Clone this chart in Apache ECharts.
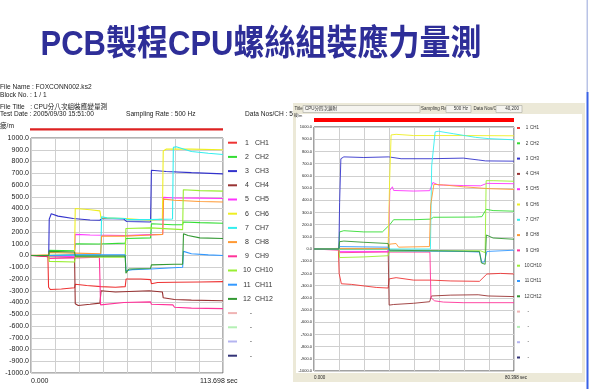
<!DOCTYPE html>
<html>
<head>
<meta charset="utf-8">
<script src="https://cdn.jsdelivr.net/npm/echarts@6/dist/echarts.min.js"></script>
<style>
html, body { margin: 0; padding: 0; background: #fff; }
#chart { width: 589px; height: 389px; }
</style>
</head>
<body>
<div id="chart"></div>
<script>
// 通道名稱與顏色 (13~16 為未使用通道)
const chNames = ['CH1', 'CH2', 'CH3', 'CH4', 'CH5', 'CH6', 'CH7', 'CH8', 'CH9', 'CH10', 'CH11', 'CH12'];
const chColors = ['#ee3333', '#33dd33', '#3333cc', '#993333', '#ff33ff', '#eeee22', '#33eeee', '#ff9933',
  '#ff3399', '#99ee33', '#3399ff', '#339933', '#f0b4b4', '#b4f0b4', '#b4b4f0', '#333377'];

// 左圖: CPU分八次組裝 (時間 sec, 應變)
const leftXMax = 113.698;
const L_CH1 = [[0, 2], [10, -5], [10.4, -270], [11.5, -290], [18, -285], [25.8, -275], [26.2, -245], [33, -255], [41.5, -265], [50, -270], [55.8, -265], [56.3, -200], [65, -200], [70.8, -205], [71.3, -240], [75, -230], [85, -228], [100, -225], [113.7, -222]];
const L_CH2 = [[0, 0], [10.5, 0], [10.8, 45], [25.8, 40], [26.2, 100], [40, 98], [55.8, 105], [56.2, 145], [70.8, 150], [71.3, 270], [84, 262], [89.8, 262], [90.2, 285], [100, 280], [113.7, 275]];
const L_CH3 = [[0, 0], [10.5, 0], [10.8, 310], [12, 355], [16, 335], [25, 315], [35, 302], [40.8, 300], [42, 315], [55, 310], [56.5, 290], [70.8, 285], [71.3, 725], [80, 715], [95, 705], [113.7, 695]];
const L_CH4 = [[0, 0], [10.5, -10], [25.8, -15], [26.2, -410], [28, -425], [35, -415], [40.8, -405], [41.5, -300], [50, -310], [70, -300], [77.8, -310], [78.3, -360], [85, -375], [95, -380], [113.7, -385]];
const L_CH5 = [[0, 0], [10.5, 0], [10.8, -15], [25.8, -10], [26.2, 180], [35, 175], [55.8, 170], [56.2, 175], [70.8, 178], [78, 180], [78.4, 495], [85, 490], [100, 488], [113.7, 485]];
const L_CH6 = [[0, 0], [25.8, 5], [26.2, 400], [27, 410], [35, 390], [40.8, 380], [41.5, 320], [55.8, 315], [56.5, 305], [70.8, 300], [77.8, 310], [78.3, 890], [80, 905], [95, 905], [113.7, 900]];
const L_CH7 = [[0, 0], [41.3, 5], [41.8, 330], [45, 320], [55.8, 315], [57, 305], [70, 305], [83.8, 310], [84.3, 920], [86, 925], [95, 885], [105, 870], [113.7, 860]];
const L_CH8 = [[0, 0], [10.5, 5], [10.8, 25], [25.8, 20], [26.2, 10], [41.3, 15], [41.8, 165], [55.8, 165], [56.2, 170], [70.8, 175], [78, 180], [78.5, 480], [85, 470], [100, 460], [113.7, 455]];
const L_CH9 = [[0, 0], [10.5, -5], [10.8, -25], [25.8, -20], [26.2, -10], [40.5, -15], [41.2, -420], [42, -410], [55, -400], [70.8, -395], [71.3, -415], [84, -420], [85, -440], [95, -448], [113.7, -452]];
const L_CH10 = [[0, 0], [10.5, 0], [10.8, -50], [25.8, -55], [26.2, -10], [41, -15], [55.8, -15], [56.2, 230], [70.8, 235], [71.3, 225], [89.8, 220], [90.2, 560], [100, 552], [113.7, 548]];
const L_CH11 = [[0, 0], [10.5, 0], [10.8, 10], [25.8, 5], [26.2, 0], [55.8, 5], [56.2, -130], [60, -120], [70.8, -115], [71.3, -105], [89.8, -100], [90.3, 35], [95, 15], [105, 5], [113.7, 0]];
const L_CH12 = [[0, 0], [10.5, 0], [10.8, 35], [25.8, 30], [26.2, -5], [55.8, -5], [56.2, -150], [58, -115], [70.8, -110], [71.3, -80], [85, -75], [89.8, -75], [90.3, 185], [93, 170], [100, 150], [113.7, 145]];

// 右圖: CPU分四次鎖附
const rightXMax = 80.398;
const R_CH1 = [[0, 0], [9.8, 0], [10.1, -200], [11, -285], [15, -290], [25, -315], [29.8, -320], [30.2, -245], [33, -235], [40, -255], [47, -255], [55, -262], [66.5, -265], [69.5, -205], [75, -200], [80.4, -205]];
const R_CH2 = [[0, 0], [10, 0], [10.3, 140], [12, 150], [20, 140], [27.5, 140], [30.5, 200], [32, 240], [40, 240], [47, 245], [48, 260], [65, 262], [67.5, 265], [69.2, 325], [72, 315], [80.4, 310]];
const R_CH3 = [[0, 0], [10, 0], [10.3, 380], [10.8, 740], [12, 755], [20, 750], [30, 755], [35, 740], [47, 740], [60, 745], [66, 730], [69, 722], [80.4, 720]];
const R_CH4 = [[0, 0], [29.8, 0], [30.2, -460], [32, -455], [40, -445], [46.5, -432], [47.2, -385], [55, -378], [66, -375], [70, -385], [80.4, -390]];
const R_CH5 = [[0, 0], [10, 0], [10.3, -20], [29.8, -20], [30.5, 480], [31.5, 510], [32, 480], [40, 475], [46.5, 478], [47.8, 545], [50, 525], [60, 520], [67, 518], [69.5, 538], [80.4, 535]];
const R_CH6 = [[0, 0], [29.8, 0], [30.4, 560], [31, 935], [33, 940], [40, 930], [60, 930], [80.4, 928]];
const R_CH7 = [[0, 0], [46.8, 0], [47.3, 680], [48.7, 960], [50, 965], [56, 945], [65, 915], [70, 905], [80.4, 895]];
const R_CH8 = [[0, 0], [10, 5], [29.8, 5], [30.5, 40], [33, 45], [34, 15], [46.4, 20], [46.9, 360], [48.2, 530], [52, 525], [60, 510], [70, 495], [80.4, 488]];
const R_CH9 = [[0, 0], [10, -10], [10.3, -30], [29.8, -25], [30.2, -30], [46.6, -25], [47, -400], [48.5, -425], [52, -435], [60, -440], [80.4, -440]];
const R_CH10 = [[0, 0], [10, 0], [10.3, -70], [20, -65], [29.8, -55], [30.3, -20], [50, -15], [67, -15], [68.8, -30], [69.2, 560], [72, 560], [80.4, 555]];
const R_CH11 = [[0, 0], [10, 0], [10.3, 20], [29.8, 15], [30.3, -15], [60, -20], [66.5, -25], [67.5, -110], [68.5, -105], [69.5, -20], [80.4, -10]];
const R_CH12 = [[0, 0], [10, 0], [10.3, 60], [12, 65], [20, 55], [29.8, 45], [30.3, -10], [50, -15], [66.5, -20], [67.3, -115], [68.8, -125], [69.3, 115], [72, 90], [80.4, 80]];

const leftData = [L_CH1, L_CH2, L_CH3, L_CH4, L_CH5, L_CH6, L_CH7, L_CH8, L_CH9, L_CH10, L_CH11, L_CH12];
const rightData = [R_CH1, R_CH2, R_CH3, R_CH4, R_CH5, R_CH6, R_CH7, R_CH8, R_CH9, R_CH10, R_CH11, R_CH12];

const FONT = '"Liberation Sans", "Noto Sans CJK TC", sans-serif';

// 建立 16 條線 (後 4 條只用於圖例)
function buildSeries(prefix, dataList, idx, width) {
  const out = [];
  for (let i = 0; i < 16; i++) {
    out.push({
      name: prefix + (i + 1),
      type: 'line',
      xAxisIndex: idx,
      yAxisIndex: idx,
      data: i < 12 ? dataList[i] : [],
      showSymbol: false,
      symbol: 'none',
      lineStyle: { width: width, color: chColors[i] },
      itemStyle: { color: chColors[i] }
    });
  }
  return out;
}

function legendFormatter(name) {
  const n = parseInt(name.slice(1));
  return n <= 12 ? '{n|' + n + '}{c|' + chNames[n - 1] + '}' : '{n|-}';
}

function legendNames(prefix) {
  const arr = [];
  for (let i = 1; i <= 16; i++) arr.push(prefix + i);
  return arr;
}

// x 軸: 只顯示起點標籤, 終點 "xxx sec" 另外以文字放置
function xAxisOpt(idx, max, fontSize, margin) {
  return {
    gridIndex: idx, type: 'value', min: 0, max: max, interval: max / 8,
    axisLine: { show: false }, axisTick: { show: false },
    splitLine: { lineStyle: { color: '#cfcfcf', width: 1 } },
    axisLabel: {
      fontSize: fontSize, color: '#222', fontFamily: FONT, margin: margin,
      alignMinLabel: 'left',
      formatter: function (v) { return v === 0 ? '0.000' : ''; }
    }
  };
}

function yAxisOpt(idx, fontSize, margin) {
  return {
    gridIndex: idx, type: 'value', min: -1000, max: 1000, interval: 100,
    axisLine: { show: false }, axisTick: { show: false },
    splitLine: { lineStyle: { color: '#cfcfcf', width: 1 } },
    axisLabel: {
      fontSize: fontSize, color: '#222', fontFamily: FONT, margin: margin,
      showMinLabel: true, showMaxLabel: true,
      formatter: function (v) { return v.toFixed(1); }
    }
  };
}

const chart = echarts.init(document.getElementById('chart'));
const option = {
  animation: false,
  backgroundColor: '#fff',
  grid: [
    { left: 31, top: 138, width: 192, height: 235, show: true, borderColor: '#666', borderWidth: 1, backgroundColor: '#fff' },
    { left: 314, top: 127, width: 200, height: 244, show: true, borderColor: '#444', borderWidth: 1, backgroundColor: '#fff' }
  ],
  xAxis: [xAxisOpt(0, leftXMax, 7, 4.5), xAxisOpt(1, rightXMax, 4.5, 4.5)],
  yAxis: [yAxisOpt(0, 7, 2), yAxisOpt(1, 4, 2)],
  legend: [
    {
      data: legendNames('L'), orient: 'vertical', left: 228, top: 137.7, padding: 0,
      itemWidth: 9, itemHeight: 2, itemGap: 4.2, icon: 'rect', selectedMode: false,
      formatter: legendFormatter,
      textStyle: {
        fontSize: 7, lineHeight: 10, color: '#333', fontFamily: FONT,
        rich: {
          n: { width: 10, align: 'right', fontSize: 7, lineHeight: 10, fontFamily: FONT, color: '#333' },
          c: { padding: [0, 0, 0, 3], fontSize: 7, lineHeight: 10, fontFamily: FONT, color: '#333' }
        }
      }
    },
    {
      data: legendNames('R'), orient: 'vertical', left: 517, top: 124, padding: 0,
      itemWidth: 3, itemHeight: 2, itemGap: 7.3, icon: 'rect', selectedMode: false,
      formatter: legendFormatter,
      textStyle: {
        fontSize: 4.5, lineHeight: 8, color: '#333', fontFamily: FONT,
        rich: {
          n: { width: 4, align: 'right', fontSize: 4.5, lineHeight: 8, fontFamily: FONT, color: '#333' },
          c: { padding: [0, 0, 0, 1], fontSize: 4.5, lineHeight: 8, fontFamily: FONT, color: '#333' }
        }
      }
    }
  ],
  graphic: {
    elements: [
      // 標題
      {
        type: 'text', x: 261, y: 45, scaleY: 1.15, z: 5,
        style: {
          text: 'PCB製程CPU螺絲組裝應力量測', fill: '#2e2e98',
          font: 'bold 31px ' + FONT, textAlign: 'center', textVerticalAlign: 'middle',
          shadowColor: 'rgba(0,0,0,0.25)', shadowOffsetX: 2, shadowOffsetY: 2, shadowBlur: 2
        }
      },
      // 左圖檔頭
      { type: 'text', x: 0, y: 87.3, z: -3, style: { text: 'File Name : FOXCONN002.ks2', font: '6.6px ' + FONT, fill: '#222', textVerticalAlign: 'middle' } },
      { type: 'text', x: 0, y: 95, z: -3, style: { text: 'Block No. : 1 / 1', font: '6.6px ' + FONT, fill: '#222', textVerticalAlign: 'middle' } },
      { type: 'text', x: 0, y: 106.7, z: -3, style: { text: 'File Title   : CPU分八次組裝應變量測', font: '6.6px ' + FONT, fill: '#222', textVerticalAlign: 'middle' } },
      { type: 'text', x: 0, y: 114.3, z: -3, style: { text: 'Test Date : 2005/09/30 15:51:00', font: '6.6px ' + FONT, fill: '#222', textVerticalAlign: 'middle' } },
      { type: 'text', x: 126, y: 114.3, z: -3, style: { text: 'Sampling Rate : 500 Hz', font: '6.6px ' + FONT, fill: '#222', textVerticalAlign: 'middle' } },
      { type: 'text', x: 245, y: 114.3, z: -3, style: { text: 'Data Nos/CH : 56,850', font: '6.6px ' + FONT, fill: '#222', textVerticalAlign: 'middle' } },
      { type: 'text', x: 0, y: 126.5, z: -3, style: { text: '疲/m', font: '6.6px ' + FONT, fill: '#222', textVerticalAlign: 'middle' } },
      { type: 'rect', z: 1, shape: { x: 30, y: 128.2, width: 193, height: 2.2 }, style: { fill: '#dd2222' } },
      { type: 'text', x: 200, y: 381, z: 1, style: { text: leftXMax.toFixed(3) + ' sec', font: '7px ' + FONT, fill: '#222', textVerticalAlign: 'middle', rich: {} } },
      // 右圖面板
      { type: 'rect', z: -2, shape: { x: 293, y: 103, width: 292, height: 279 }, style: { fill: '#ece9d8' } },
      { type: 'rect', z: -1, shape: { x: 296, y: 114, width: 286, height: 259 }, style: { fill: '#fff' } },
      { type: 'text', x: 294.5, y: 109, z: 1, style: { text: 'Title', font: '4.5px ' + FONT, fill: '#333', textVerticalAlign: 'middle' } },
      { type: 'rect', z: 1, shape: { x: 303, y: 105.5, width: 117, height: 7 }, style: { fill: '#f5f4ef', stroke: '#a8a8a0', lineWidth: 0.6 } },
      { type: 'text', x: 305, y: 109, z: 2, style: { text: 'CPU分四次鎖附', font: '4.5px ' + FONT, fill: '#333', textVerticalAlign: 'middle' } },
      { type: 'text', x: 421, y: 109, z: 1, style: { text: 'Sampling Rate', font: '4.5px ' + FONT, fill: '#333', textVerticalAlign: 'middle' } },
      { type: 'rect', z: 1, shape: { x: 446, y: 105.5, width: 25, height: 7 }, style: { fill: '#f5f4ef', stroke: '#a8a8a0', lineWidth: 0.6 } },
      { type: 'text', x: 468, y: 109, z: 2, style: { text: '500 Hz', font: '4.5px ' + FONT, fill: '#333', textAlign: 'right', textVerticalAlign: 'middle' } },
      { type: 'text', x: 473.5, y: 109, z: 1, style: { text: 'Data Nos/CH', font: '4.5px ' + FONT, fill: '#333', textVerticalAlign: 'middle' } },
      { type: 'rect', z: 1, shape: { x: 496, y: 105.5, width: 26, height: 7 }, style: { fill: '#f5f4ef', stroke: '#a8a8a0', lineWidth: 0.6 } },
      { type: 'text', x: 519, y: 109, z: 2, style: { text: '40,200', font: '4.5px ' + FONT, fill: '#333', textAlign: 'right', textVerticalAlign: 'middle' } },
      { type: 'text', x: 294, y: 116, z: 1, style: { text: '疲/m', font: '4px ' + FONT, fill: '#333', textVerticalAlign: 'middle' } },
      { type: 'rect', z: 1, shape: { x: 314, y: 118, width: 200, height: 4 }, style: { fill: '#ff0000' } },
      { type: 'text', x: 505, y: 377.7, z: 1, style: { text: rightXMax.toFixed(3) + ' sec', font: '4.5px ' + FONT, fill: '#222', textVerticalAlign: 'middle' } },
      // 右側藍色邊線
      { type: 'rect', z: 1, shape: { x: 586.5, y: 0, width: 1.5, height: 92 }, style: { fill: '#b9c3e6' } },
      { type: 'rect', z: 1, shape: { x: 586.5, y: 92, width: 2, height: 297 }, style: { fill: '#3a62e6' } }
    ]
  },
  series: buildSeries('L', leftData, 0, 1.1).concat(buildSeries('R', rightData, 1, 0.9))
};
chart.setOption(option);
</script>
</body>
</html>
